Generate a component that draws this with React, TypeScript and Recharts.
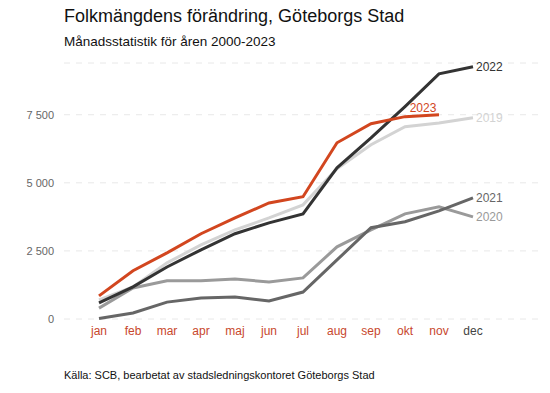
import React from 'react';
import { LineChart, Line, XAxis, YAxis, CartesianGrid, LabelList } from 'recharts';

const months = ['jan', 'feb', 'mar', 'apr', 'maj', 'jun', 'jul', 'aug', 'sep', 'okt', 'nov', 'dec'];

const y2019 = [700, 1180, 2060, 2720, 3270, 3710, 4190, 5520, 6400, 7060, 7200, 7390];
const y2020 = [400, 1140, 1400, 1400, 1470, 1360, 1510, 2650, 3270, 3860, 4120, 3750];
const y2021 = [20, 220, 620, 770, 810, 660, 990, 2170, 3350, 3570, 3970, 4450];
const y2022 = [590, 1180, 1910, 2540, 3130, 3530, 3860, 5550, 6650, 7800, 9000, 9260];
const y2023 = [850, 1770, 2430, 3130, 3710, 4260, 4490, 6470, 7170, 7430, 7500];

const yTicks = [0, 2500, 5000, 7500];

const data = months.map((m, i) => ({
  month: m,
  y2019: y2019[i],
  y2020: y2020[i],
  y2021: y2021[i],
  y2022: y2022[i],
  y2023: y2023[i],
}));

const RED = '#d2461f';
const FONT = '"Liberation Sans", Arial, sans-serif';

const formatNum = (v: number) => (v === 0 ? '0' : `${Math.floor(v / 1000)} ${String(v % 1000).padStart(3, '0')}`);

const MonthTick = ({ x, y, payload }: any) => (
  <text
    x={x}
    y={y}
    dy={8}
    textAnchor="middle"
    fontSize={12}
    fontFamily={FONT}
    fill={payload.value === 'dec' ? '#444444' : '#c8472c'}
  >
    {payload.value}
  </text>
);

const endLabel = (name: string, color: string, lastIndex: number, above = false) => (props: any) => {
  const { x, y, index } = props;
  if (index !== lastIndex) return null;
  if (above) {
    return (
      <text x={x - 16} y={y - 7} textAnchor="middle" dominantBaseline="central" fontSize={12} fontFamily={FONT} fill={color}>
        {name}
      </text>
    );
  }
  return (
    <text x={x + 3} y={y} dominantBaseline="central" fontSize={12} fontFamily={FONT} fill={color}>
      {name}
    </text>
  );
};

const series = [
  { key: 'y2019', name: '2019', color: '#d3d3d3', last: 11 },
  { key: 'y2020', name: '2020', color: '#9a9a9a', last: 11 },
  { key: 'y2021', name: '2021', color: '#666666', last: 11 },
  { key: 'y2022', name: '2022', color: '#333333', last: 11 },
];

export default function App() {
  return (
    <div style={{ position: 'absolute', left: 0, top: 0, width: 550, height: 393, background: '#fff', fontFamily: FONT }}>
      <div style={{ position: 'absolute', left: 64, top: 6, fontSize: 18, color: '#111' }}>
        Folkmängdens förändring, Göteborgs Stad
      </div>
      <div style={{ position: 'absolute', left: 64, top: 34, fontSize: 13.5, color: '#111' }}>
        Månadsstatistik för åren 2000-2023
      </div>
      <LineChart width={550} height={393} data={data} margin={{ top: 63, right: 10, bottom: 44, left: 0 }}>
        <CartesianGrid vertical={false} stroke="#e8e8e8" strokeDasharray="6 6" />
        <XAxis
          dataKey="month"
          axisLine={false}
          tickLine={false}
          height={30}
          padding={{ left: 35, right: 67 }}
          tick={<MonthTick />}
          interval={0}
        />
        <YAxis
          domain={[0, 9400]}
          ticks={yTicks}
          axisLine={false}
          tickLine={false}
          width={64}
          tickMargin={4}
          tickFormatter={formatNum}
          tick={{ fontSize: 11, fill: '#666666', fontFamily: FONT }}
        />
        {series.map((s) => (
          <Line
            key={s.key}
            dataKey={s.key}
            stroke={s.color}
            strokeWidth={3}
            dot={false}
            isAnimationActive={false}
          >
            <LabelList dataKey={s.key} content={endLabel(s.name, s.color, s.last)} />
          </Line>
        ))}
        <Line dataKey="y2023" stroke={RED} strokeWidth={3} dot={false} isAnimationActive={false}>
          <LabelList dataKey="y2023" content={endLabel('2023', RED, 10, true)} />
        </Line>
      </LineChart>
      <div style={{ position: 'absolute', left: 64, top: 369, fontSize: 11, color: '#111' }}>
        Källa: SCB, bearbetat av stadsledningskontoret Göteborgs Stad
      </div>
    </div>
  );
}
